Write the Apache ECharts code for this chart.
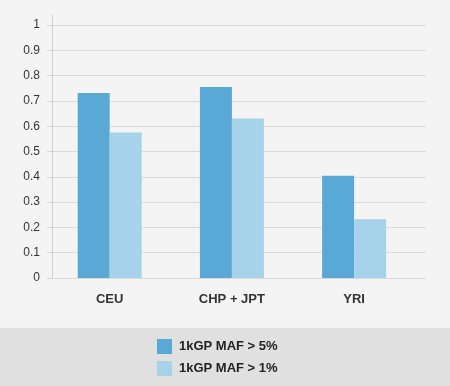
<!DOCTYPE html>
<html><head><meta charset="utf-8">
<script src="https://cdn.jsdelivr.net/npm/echarts@6/dist/echarts.min.js"></script>
<style>html,body{margin:0;padding:0;background:#f4f4f4}#c{width:450px;height:386px}</style>
</head><body><div id="c"></div>
<script>
var categories = ['CEU', 'CHP + JPT', 'YRI'];
var maf5 = [0.731, 0.755, 0.404];
var maf1 = [0.575, 0.630, 0.232];
var seriesNames = ['1kGP MAF > 5%', '1kGP MAF > 1%'];
var yTicks = {min: 0, max: 1, interval: 0.1};

var chart = echarts.init(document.getElementById('c'), null, {renderer: 'canvas'});
var font = 'Liberation Sans, Arial, Helvetica, sans-serif';
chart.setOption({
  backgroundColor: '#f4f4f4',
  animation: false,
  graphic: [{type: 'rect', shape: {x: 0, y: 328, width: 450, height: 58}, style: {fill: '#e0e0e0'}, z: -10}],
  legend: {
    orient: 'vertical', left: 157, top: 339, padding: 0, itemWidth: 15, itemHeight: 15, itemGap: 7,
    icon: 'rect',
    textStyle: {fontFamily: font, fontSize: 13, fontWeight: 'bold', color: '#222', padding: [0,0,0,2]},
    data: seriesNames
  },
  grid: [
    {left: 52, right: 24, top: 25, bottom: 108},
    {left: 48.6, right: 34.8, top: 25, bottom: 108},
    {left: 52, right: 24, top: 15, bottom: 108}
  ],
  xAxis: [
    {gridIndex: 0, type: 'category', data: categories, show: false},
    {gridIndex: 1, type: 'category', data: categories,
      axisLine: {show: false}, axisTick: {show: false},
      axisLabel: {margin: 15, fontFamily: font, fontSize: 13, fontWeight: 'bold', color: '#333'}},
    {gridIndex: 2, type: 'category', data: categories, show: false}
  ],
  yAxis: [
    {gridIndex: 0, type: 'value', min: yTicks.min, max: yTicks.max, interval: yTicks.interval,
      axisLine: {show: false},
      axisTick: {show: true, inside: false, length: 5, lineStyle: {color: '#d4d4d4'}},
      axisLabel: {margin: 12, fontFamily: font, fontSize: 12, color: '#333',
        formatter: function(v){ return String(Math.round(v*10)/10); }},
      splitLine: {show: true, lineStyle: {color: '#dadada', width: 1}}},
    {gridIndex: 1, type: 'value', min: yTicks.min, max: yTicks.max, show: false, splitLine: {show: false}},
    {gridIndex: 2, type: 'value', min: 0, max: 1, show: true,
      axisLine: {show: true, lineStyle: {color: '#cfcfcf'}}, axisTick: {show: false},
      axisLabel: {show: false}, splitLine: {show: false}}
  ],
  series: [
    {name: seriesNames[0], type: 'bar', xAxisIndex: 1, yAxisIndex: 1, data: maf5, barWidth: 32, barGap: '0%',
      itemStyle: {color: '#5aa8d5'}},
    {name: seriesNames[1], type: 'bar', xAxisIndex: 1, yAxisIndex: 1, data: maf1, barWidth: 32, barGap: '0%',
      itemStyle: {color: '#a6d3e9'}}
  ]
});
</script></body></html>
